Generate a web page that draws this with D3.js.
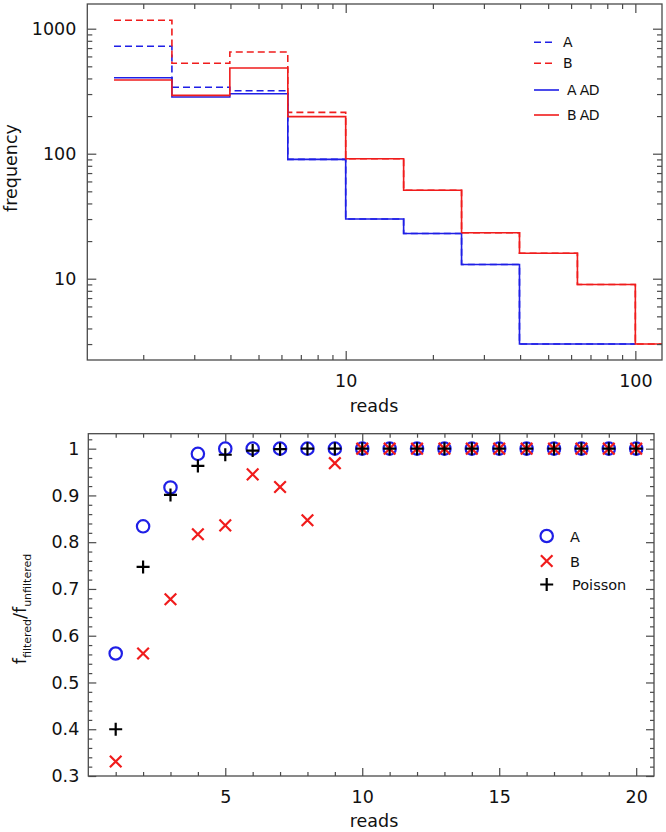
<!DOCTYPE html>
<html><head><meta charset="utf-8">
<script src="https://cdn.jsdelivr.net/npm/d3@7/dist/d3.min.js"></script>
<style>
body{margin:0;background:#fff;}
svg{display:block;font-family:"DejaVu Sans",sans-serif;}
</style></head>
<body><svg id="c" width="666" height="832"></svg>
<script>
// ---------- data: top histogram ----------
const binEdges = [1.585, 2.512, 3.981, 6.310, 10, 15.85, 25.12, 39.81, 63.10, 100, 158.5];
const freqA    = [723, 340, 319, 90, 30, 23, 13, 3, 3];
const freqB    = [1167, 529, 651, 214, 91, 51, 23.3, 16, 9, 3];
const freqAAD  = [405, 284, 302, 90, 30, 23, 13, 3, 3];
const freqBAD  = [389, 293, 485, 198, 91, 51, 23.3, 16, 9, 3];
const topXMajor = [10, 100];
const topYMajor = [10, 100, 1000];

// ---------- data: bottom scatter ----------
const reads    = [1,2,3,4,5,6,7,8,9,10,11,12,13,14,15,16,17,18,19,20];
const ratioA   = [0.562,0.834,0.917,0.989,1,1,1,1,1,1,1,1,1,1,1,1,1,1,1,1];
const ratioB   = [0.331,0.562,0.678,0.817,0.836,0.945,0.918,0.847,0.969,1,1,1,1,1,1,1,1,1,1,1];
const poisson  = [0.400,0.747,0.901,0.963,0.987,0.996,0.999,1,1,1,1,1,1,1,1,1,1,1,1,1];
const botXMajor = [5, 10, 15, 20];
const botYMajor = [0.3,0.4,0.5,0.6,0.7,0.8,0.9,1.0];

const BLUE = "#1f1fe6", RED = "#f01c1c", AX = "#4a4a4a";
const svg = d3.select("#c");

function styleAxis(g){
  g.select(".domain").remove();
  g.selectAll(".tick line").attr("stroke", AX).attr("stroke-width", 1.2);
  g.selectAll(".tick text").attr("fill", "#111").style("font-size","17.5px").style("font-family","DejaVu Sans");
}

// ================= TOP CHART =================
const T = {l:87.3, r:662, t:4, b:360};
const xT = d3.scaleLog().domain([1.282, 123.6]).range([T.l, T.r]);
const yT = d3.scaleLog().domain([2.237, 1576]).range([T.b, T.t]);

const xTMinor = [2,3,4,5,6,7,8,9,20,30,40,50,60,70,80,90];
const yTMinor = [3,4,5,6,7,8,9,20,30,40,50,60,70,80,90,200,300,400,500,600,700,800,900];

const gt = svg.append("g");
gt.append("clipPath").attr("id","clipT").append("rect")
  .attr("x",T.l).attr("y",T.t).attr("width",T.r-T.l).attr("height",T.b-T.t);

function stepData(vals){
  const pts = vals.map((v,i)=>[binEdges[i], v]);
  pts.push([binEdges[vals.length], vals[vals.length-1]]);
  return pts;
}
const line = d3.line().x(d=>xT(d[0])).y(d=>yT(d[1])).curve(d3.curveStepAfter);
const series = [
  {v:freqA, c:BLUE, dash:"7,4"},
  {v:freqB, c:RED, dash:"7,4"},
  {v:freqAAD, c:BLUE, dash:null},
  {v:freqBAD, c:RED, dash:null}
];
const plotT = gt.append("g").attr("clip-path","url(#clipT)");
series.forEach(s=>{
  plotT.append("path").attr("d", line(stepData(s.v)))
    .attr("fill","none").attr("stroke", s.c).attr("stroke-width",1.6)
    .attr("stroke-dasharray", s.dash);
});

gt.append("g").attr("transform",`translate(0,${T.b})`)
  .call(d3.axisBottom(xT).tickValues(topXMajor).tickSize(-9).tickPadding(15).tickFormat(d3.format("d"))).call(styleAxis);
gt.append("g").attr("transform",`translate(0,${T.b})`)
  .call(d3.axisBottom(xT).tickValues(xTMinor).tickSize(-5).tickFormat("")).call(styleAxis);
gt.append("g").attr("transform",`translate(0,${T.t})`)
  .call(d3.axisTop(xT).tickValues(topXMajor).tickSize(-9).tickFormat("")).call(styleAxis);
gt.append("g").attr("transform",`translate(0,${T.t})`)
  .call(d3.axisTop(xT).tickValues(xTMinor).tickSize(-5).tickFormat("")).call(styleAxis);
gt.append("g").attr("transform",`translate(${T.l},0)`)
  .call(d3.axisLeft(yT).tickValues(topYMajor).tickSize(-9).tickPadding(11).tickFormat(d3.format("d"))).call(styleAxis);
gt.append("g").attr("transform",`translate(${T.l},0)`)
  .call(d3.axisLeft(yT).tickValues(yTMinor).tickSize(-5).tickFormat("")).call(styleAxis);
gt.append("g").attr("transform",`translate(${T.r},0)`)
  .call(d3.axisRight(yT).tickValues(topYMajor).tickSize(-9).tickFormat("")).call(styleAxis);
gt.append("g").attr("transform",`translate(${T.r},0)`)
  .call(d3.axisRight(yT).tickValues(yTMinor).tickSize(-5).tickFormat("")).call(styleAxis);
gt.append("rect").attr("x",T.l).attr("y",T.t).attr("width",T.r-T.l).attr("height",T.b-T.t)
  .attr("fill","none").attr("stroke",AX).attr("stroke-width",1.3);

gt.append("text").attr("x",374).attr("y",412).attr("text-anchor","middle")
  .style("font-size","17.5px").attr("fill","#111").text("reads");
gt.append("text").attr("transform","translate(17,168) rotate(-90)").attr("text-anchor","middle")
  .style("font-size","17.5px").attr("fill","#111").text("frequency");

const legT = [
  {label:"A", c:BLUE, dash:"7,4", y:42.3, x1:534, x2:555, tx:563},
  {label:"B", c:RED, dash:"7,4", y:63.3, x1:534, x2:555, tx:563},
  {label:"A AD", c:BLUE, dash:null, y:90, x1:534, x2:559, tx:567},
  {label:"B AD", c:RED, dash:null, y:115, x1:534, x2:559, tx:567}
];
legT.forEach(d=>{
  gt.append("line").attr("x1",d.x1).attr("x2",d.x2).attr("y1",d.y).attr("y2",d.y)
    .attr("stroke",d.c).attr("stroke-width",1.6).attr("stroke-dasharray",d.dash);
  gt.append("text").attr("x",d.tx).attr("y",d.y+5).style("font-size","14px")
    .style("letter-spacing", d.label.length>1 ? "-0.6px" : null)
    .attr("fill","#111").text(d.label);
});

// ================= BOTTOM CHART =================
const B = {l:88.3, r:654, t:433.7, b:776};
const xB = d3.scaleLinear().domain([0, 20.65]).range([B.l, B.r]);
const yB = d3.scaleLinear().domain([0.3, 1.032]).range([B.b, B.t]);
const xBMinor = reads.filter(v=>v%5!==0);
const yBMinor = d3.range(15, 52).map(i=>i*0.02).filter(v=>Math.abs(v*10-Math.round(v*10))>1e-6);

const gb = svg.append("g");
gb.append("g").attr("transform",`translate(0,${B.b})`)
  .call(d3.axisBottom(xB).tickValues(botXMajor).tickSize(-8).tickPadding(15).tickFormat(d3.format("d"))).call(styleAxis);
gb.append("g").attr("transform",`translate(0,${B.b})`)
  .call(d3.axisBottom(xB).tickValues(xBMinor).tickSize(-4).tickFormat("")).call(styleAxis);
gb.append("g").attr("transform",`translate(0,${B.t})`)
  .call(d3.axisTop(xB).tickValues(botXMajor).tickSize(-8).tickFormat("")).call(styleAxis);
gb.append("g").attr("transform",`translate(0,${B.t})`)
  .call(d3.axisTop(xB).tickValues(xBMinor).tickSize(-4).tickFormat("")).call(styleAxis);
gb.append("g").attr("transform",`translate(${B.l},0)`)
  .call(d3.axisLeft(yB).tickValues(botYMajor).tickSize(-8).tickPadding(9).tickFormat(d=>d===1?"1":d3.format(".1f")(d))).call(styleAxis);
gb.append("g").attr("transform",`translate(${B.l},0)`)
  .call(d3.axisLeft(yB).tickValues(yBMinor).tickSize(-4).tickFormat("")).call(styleAxis);
gb.append("g").attr("transform",`translate(${B.r},0)`)
  .call(d3.axisRight(yB).tickValues(botYMajor).tickSize(-8).tickFormat("")).call(styleAxis);
gb.append("g").attr("transform",`translate(${B.r},0)`)
  .call(d3.axisRight(yB).tickValues(yBMinor).tickSize(-4).tickFormat("")).call(styleAxis);
gb.append("rect").attr("x",B.l).attr("y",B.t).attr("width",B.r-B.l).attr("height",B.b-B.t)
  .attr("fill","none").attr("stroke",AX).attr("stroke-width",1.3);

function circleM(g, cx, cy){ g.append("circle").attr("cx",cx).attr("cy",cy).attr("r",6.2)
  .attr("fill","none").attr("stroke",BLUE).attr("stroke-width",2.2); }
function crossM(g, cx, cy){ const s=5.8;
  g.append("path").attr("d",`M${cx-s},${cy-s}L${cx+s},${cy+s}M${cx-s},${cy+s}L${cx+s},${cy-s}`)
   .attr("stroke",RED).attr("stroke-width",2.2).attr("fill","none"); }
function plusM(g, cx, cy){ const s=6.5;
  g.append("path").attr("d",`M${cx-s},${cy}L${cx+s},${cy}M${cx},${cy-s}L${cx},${cy+s}`)
   .attr("stroke","#000").attr("stroke-width",2.2).attr("fill","none"); }

const pts = gb.append("g");
reads.forEach((r,i)=>circleM(pts, xB(r), yB(ratioA[i])));
reads.forEach((r,i)=>crossM(pts, xB(r), yB(ratioB[i])));
reads.forEach((r,i)=>plusM(pts, xB(r), yB(poisson[i])));

circleM(gb, 546.7, 536);
crossM(gb, 546.7, 561);
plusM(gb, 546.7, 584.5);
[["A",570,536],["B",570,561],["Poisson",572,584.5]].forEach(d=>{
  gb.append("text").attr("x",d[1]).attr("y",d[2]+5.5).style("font-size","14.5px").attr("fill","#111").text(d[0]);
});

gb.append("text").attr("x",374).attr("y",827).attr("text-anchor","middle")
  .style("font-size","17.5px").attr("fill","#111").text("reads");
const yl = gb.append("text").attr("transform","translate(26,609) rotate(-90)").attr("text-anchor","middle")
  .style("font-size","17.5px").attr("fill","#111");
yl.append("tspan").text("f");
yl.append("tspan").attr("dy",5).style("font-size","11px").text("filtered");
yl.append("tspan").attr("dy",-5).text("/f");
yl.append("tspan").attr("dy",5).style("font-size","11px").text("unfiltered");
</script></body></html>
